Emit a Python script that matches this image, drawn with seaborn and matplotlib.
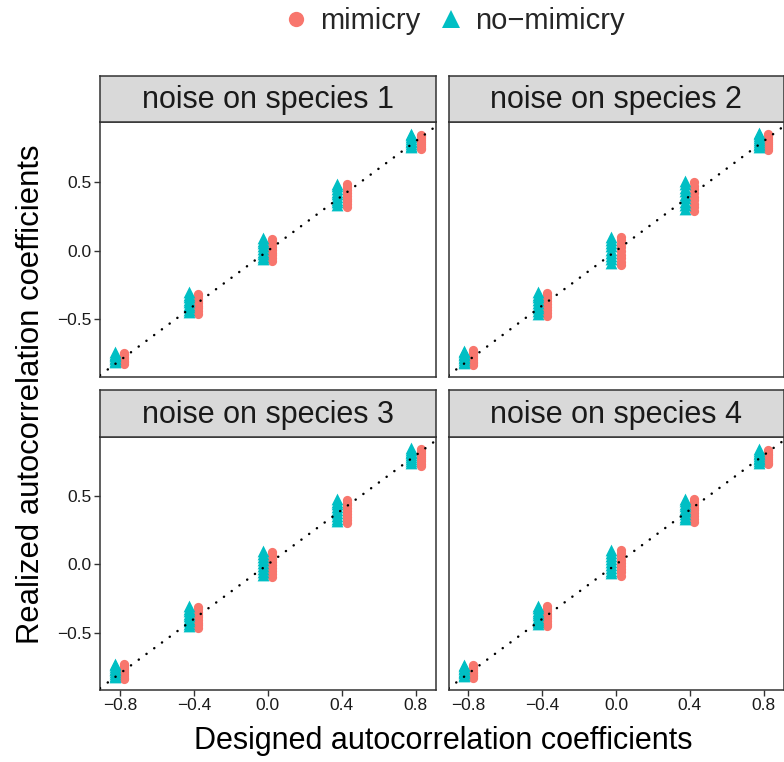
import numpy as np
import pandas as pd
import matplotlib
matplotlib.use("Agg")
import matplotlib.pyplot as plt
import seaborn as sns
from matplotlib.lines import Line2D

# ---------------- data ----------------
designed = [-0.8, -0.4, 0.0, 0.4, 0.8]
panel_titles = ["noise on species 1", "noise on species 2",
                "noise on species 3", "noise on species 4"]
groups = ["mimicry", "no-mimicry"]
group_labels = ["mimicry", "no\u2212mimicry"]
x_ticks = [-0.8, -0.4, 0.0, 0.4, 0.8]
x_ticklabels = ["\u22120.8", "\u22120.4", "0.0", "0.4", "0.8"]
y_ticks = [-0.5, 0.0, 0.5]
y_ticklabels = ["\u22120.5", "0.0", "0.5"]

# realized values, one list per designed coefficient
p1_mimicry = [[-0.742, -0.752, -0.763, -0.771, -0.782, -0.790, -0.801, -0.812, -0.822],
              [-0.312, -0.330, -0.348, -0.366, -0.383, -0.401, -0.420, -0.439, -0.458],
              [0.089, 0.068, 0.047, 0.028, 0.006, -0.013, -0.034, -0.055, -0.074],
              [0.484, 0.463, 0.443, 0.421, 0.401, 0.380, 0.360, 0.339, 0.319],
              [0.848, 0.834, 0.821, 0.807, 0.793, 0.780, 0.766, 0.752, 0.739]]
p1_nomimicry = [[-0.740, -0.750, -0.761, -0.770, -0.780, -0.790, -0.800, -0.810],
                [-0.303, -0.321, -0.339, -0.357, -0.375, -0.393, -0.411, -0.429, -0.447],
                [0.092, 0.073, 0.054, 0.034, 0.015, -0.005, -0.024, -0.044, -0.063],
                [0.490, 0.471, 0.452, 0.432, 0.413, 0.393, 0.374, 0.354, 0.335],
                [0.854, 0.842, 0.829, 0.817, 0.804, 0.792, 0.780, 0.767, 0.755]]
p2_mimicry = [[-0.725, -0.739, -0.752, -0.766, -0.780, -0.793, -0.807, -0.820, -0.834],
              [-0.305, -0.326, -0.347, -0.369, -0.390, -0.411, -0.432, -0.454, -0.475],
              [0.103, 0.077, 0.051, 0.025, -0.002, -0.028, -0.054, -0.080, -0.106],
              [0.500, 0.474, 0.448, 0.421, 0.395, 0.369, 0.343, 0.316, 0.290],
              [0.853, 0.838, 0.823, 0.808, 0.793, 0.777, 0.762, 0.747, 0.732]]
p2_nomimicry = [[-0.728, -0.739, -0.751, -0.762, -0.773, -0.784, -0.796, -0.807, -0.818],
                [-0.299, -0.319, -0.339, -0.359, -0.379, -0.399, -0.419, -0.439, -0.459],
                [0.104, 0.080, 0.056, 0.032, 0.009, -0.015, -0.039, -0.063, -0.087],
                [0.510, 0.485, 0.459, 0.434, 0.408, 0.383, 0.357, 0.332, 0.306],
                [0.862, 0.849, 0.835, 0.822, 0.809, 0.795, 0.782, 0.768, 0.755]]
p3_mimicry = [[-0.733, -0.747, -0.760, -0.774, -0.788, -0.802, -0.815, -0.829, -0.843],
              [-0.309, -0.329, -0.348, -0.368, -0.387, -0.407, -0.426, -0.446, -0.465],
              [0.089, 0.066, 0.043, 0.020, -0.003, -0.025, -0.048, -0.071, -0.094],
              [0.474, 0.453, 0.432, 0.410, 0.389, 0.368, 0.347, 0.325, 0.304],
              [0.848, 0.832, 0.817, 0.801, 0.786, 0.770, 0.754, 0.739, 0.723]]
p3_nomimicry = [[-0.727, -0.740, -0.752, -0.765, -0.777, -0.790, -0.802, -0.815, -0.827],
                [-0.305, -0.324, -0.342, -0.361, -0.380, -0.398, -0.417, -0.435, -0.454],
                [0.095, 0.073, 0.052, 0.030, 0.009, -0.013, -0.035, -0.056, -0.078],
                [0.480, 0.459, 0.439, 0.418, 0.398, 0.377, 0.356, 0.336, 0.315],
                [0.854, 0.841, 0.827, 0.814, 0.800, 0.787, 0.773, 0.760, 0.746]]
p4_mimicry = [[-0.739, -0.751, -0.762, -0.774, -0.786, -0.797, -0.809, -0.820, -0.832],
              [-0.305, -0.323, -0.342, -0.360, -0.378, -0.396, -0.415, -0.433, -0.451],
              [0.106, 0.082, 0.059, 0.035, 0.012, -0.012, -0.035, -0.059, -0.082],
              [0.481, 0.459, 0.438, 0.416, 0.395, 0.373, 0.351, 0.330, 0.308],
              [0.838, 0.825, 0.812, 0.799, 0.786, 0.772, 0.759, 0.746, 0.733]]
p4_nomimicry = [[-0.737, -0.747, -0.758, -0.768, -0.779, -0.789, -0.799, -0.810, -0.820],
                [-0.304, -0.321, -0.338, -0.355, -0.372, -0.389, -0.406, -0.423, -0.440],
                [0.105, 0.084, 0.062, 0.041, 0.020, -0.002, -0.023, -0.045, -0.066],
                [0.482, 0.463, 0.444, 0.425, 0.407, 0.388, 0.369, 0.350, 0.331],
                [0.844, 0.832, 0.819, 0.807, 0.795, 0.782, 0.770, 0.757, 0.745]]

panel_data = [(p1_mimicry, p1_nomimicry), (p2_mimicry, p2_nomimicry),
              (p3_mimicry, p3_nomimicry), (p4_mimicry, p4_nomimicry)]

rows = []
for title, (mim, nomim) in zip(panel_titles, panel_data):
    for grp, series in (("mimicry", mim), ("no-mimicry", nomim)):
        for d, vals in zip(designed, series):
            for v in vals:
                rows.append({"panel": title, "group": grp, "designed": d, "realized": v})
df = pd.DataFrame(rows)
dodge = {"mimicry": 0.025, "no-mimicry": -0.025}
df["xpos"] = df["designed"] + df["group"].map(dodge)

# ---------------- style ----------------
sns.set_theme(style="white")
plt.rcParams['font.family'] = ['Liberation Sans', 'DejaVu Sans']
palette = {"mimicry": "#F8766D", "no-mimicry": "#00BFC4"}
markers = {"mimicry": "o", "no-mimicry": "^"}
sizes = {"mimicry": 44, "no-mimicry": 72}
dark = "#333333"

W, H = 784, 762
fig = plt.figure(figsize=(W / 100, H / 100), dpi=100)

def frac_rect(l, t, r, b):
    return [l / W, 1 - b / H, (r - l) / W, (b - t) / H]

cols = [(100, 435.7), (448.5, 783.5)]
rws = [(75.7, 122.3, 377.0), (390.0, 436.5, 690.0)]
xlim = (-0.907, 0.907)
ylim = (-0.92, 0.937)

for i, title in enumerate(panel_titles):
    r, c = divmod(i, 2)
    l, rr = cols[c]
    st, pt, pb = rws[r]
    ax = fig.add_axes(frac_rect(l, pt, rr, pb))
    sub = df[df["panel"] == title]
    for grp in groups:
        g = sub[sub["group"] == grp]
        sns.scatterplot(data=g, x="xpos", y="realized", ax=ax, color=palette[grp],
                        marker=markers[grp], s=sizes[grp], linewidth=0, legend=False,
                        zorder=2)
    ax.plot(xlim, xlim, color="black", lw=1.8, linestyle=(0, (0.05, 3.8)),
            dash_capstyle="round", zorder=3)
    ax.set_xlim(*xlim)
    ax.set_ylim(*ylim)
    ax.set_xlabel("")
    ax.set_ylabel("")
    for sp in ax.spines.values():
        sp.set_color(dark)
        sp.set_linewidth(1.1)
    ax.set_facecolor("white")
    if r == 1:
        ax.set_xticks(x_ticks)
        ax.set_xticklabels(x_ticklabels)
    else:
        ax.set_xticks([])
    if c == 0:
        ax.set_yticks(y_ticks)
        ax.set_yticklabels(y_ticklabels)
    else:
        ax.set_yticks([])
    ax.tick_params(axis="both", which="both", direction="out", length=4, width=1.0,
                   color=dark, labelcolor="#1a1a1a", labelsize=12.5, pad=2,
                   bottom=(r == 1), left=(c == 0))
    # strip
    sax = fig.add_axes(frac_rect(l, st, rr, pt))
    sax.set_xlim(0, 1)
    sax.set_ylim(0, 1)
    sax.set_xticks([])
    sax.set_yticks([])
    sax.set_facecolor("#D9D9D9")
    for sp in sax.spines.values():
        sp.set_color(dark)
        sp.set_linewidth(1.1)
    sax.text(0.5, 0.47, title, ha="center", va="center", fontsize=22, color="#1a1a1a")

fig.text(443 / W, 1 - 741 / H, "Designed autocorrelation coefficients", ha="center",
         va="center", fontsize=22, color="black")
fig.text(31 / W, 1 - 394 / H, "Realized autocorrelation coefficients", ha="center",
         va="center", rotation=90, fontsize=22.3, color="black")

handles = [Line2D([], [], linestyle="none", marker="o", color=palette["mimicry"], markersize=11,
                  markeredgewidth=0),
           Line2D([], [], linestyle="none", marker="^", color=palette["no-mimicry"], markersize=13,
                  markeredgewidth=0)]
fig.legend(handles, group_labels, loc="center", bbox_to_anchor=(453 / W, 1 - 21 / H), ncol=2,
           frameon=False, fontsize=21, handletextpad=0.33, columnspacing=0.55,
           handlelength=1.0)

fig.savefig("out.png", dpi=100, facecolor="white")
